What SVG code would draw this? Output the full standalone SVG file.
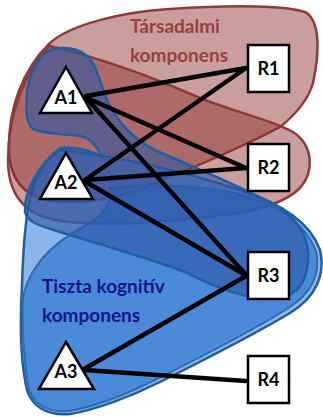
<svg xmlns="http://www.w3.org/2000/svg" width="323" height="417" viewBox="0 0 323 417">
<style>
.red{fill:rgb(140,40,40);fill-opacity:0.45;stroke:#8e3b3b;stroke-width:2.5;stroke-linejoin:round}
.blueD{fill:rgb(50,120,215);fill-opacity:0.55;stroke:#1f5f9f;stroke-width:2.5}
.blueF{fill:rgb(30,110,205);fill-opacity:0.6;stroke:#2a6cb0;stroke-width:2}
.blueC{fill:rgb(45,85,165);fill-opacity:0.6;stroke:#1f5f9f;stroke-width:2.5}
.edge{stroke:#000;stroke-width:4.5;stroke-linecap:round;fill:none}
.box{fill:#fff;stroke:#000;stroke-width:2.5}
.tri{fill:#fff;stroke:#000;stroke-width:2.5;stroke-linejoin:miter}
.lbl{font-family:Lato,"Liberation Sans",sans-serif;font-weight:bold;font-size:18px;fill:#000;text-anchor:middle}
.grp{font-family:Lato,"Liberation Sans",sans-serif;font-weight:bold;font-size:19px}
</style>
<g id="regions">
<path id="social-a" class="red" d="M50,43 C70,25 120,12 170,9 C230,5 290,5 307,13 C322,25 318,60 313,83 C308,100 295,115 280,127 C250,143 200,165 150,185 C120,198 90,203 60,202 C30,200 10,185 9,150 C8,110 22,70 50,43 Z"/>
<path id="social-b" class="red" d="M50,46 C100,58 150,76 200,98 C240,114 272,120 293,132 C314,146 314,172 300,188 C285,203 260,210 230,214 C170,222 100,228 55,220 C25,214 8,195 8,160 C8,115 25,70 50,46 Z"/>
<path id="cog-d" class="blueD" d="M60,150 C110,155 180,170 240,190 C280,203 310,222 320,250 C326,275 315,298 290,313 C250,337 200,362 160,382 C130,397 95,410 70,414 C45,416 32,405 27,390 C20,360 20,320 22,285 C23,250 25,215 32,190 C38,172 48,158 60,150 Z"/>
<path id="cog-f" class="blueF" d="M110,188 C160,182 220,188 245,196 C282,207 306,225 316,251 C321,274 311,294 287,309 C247,334 197,359 157,379 C127,394 93,407 69,411 C46,413 34,403 29,389 C23,360 22,320 23,297 C30,265 55,242 83,227 C100,218 112,205 110,188 Z"/>
<path id="cog-c" class="blueC" d="M53,49 C70,46 84,50 92,62 C100,75 102,92 110,106 C120,124 132,138 155,150 C190,166 240,185 280,208 C300,222 310,240 308,262 C306,282 298,294 280,298 C255,302 220,290 185,272 C140,255 95,243 60,232 C40,226 27,222 25,212 C24,192 38,165 60,148 C75,147 90,150 102,157 C96,145 90,138 80,136 C65,134 45,134 33,129 C25,122 26,105 27,95 C28,75 38,55 53,49 Z"/>
<text class="grp" fill="#9a4040" x="175" y="33" text-anchor="middle">Társadalmi</text>
<text class="grp" fill="#9a4040" x="179" y="62" text-anchor="middle">komponens</text>
<text class="grp" fill="#14148c" x="42" y="293">Tiszta kognitív</text>
<text class="grp" fill="#14148c" x="42" y="322">komponens</text>
</g>
<g id="connectors">
<line class="edge" x1="86" y1="96" x2="246" y2="68"/>
<line class="edge" x1="87" y1="98" x2="246" y2="168"/>
<line class="edge" x1="88" y1="100" x2="247" y2="276"/>
<line class="edge" x1="85" y1="180" x2="246" y2="68"/>
<line class="edge" x1="86" y1="180" x2="246" y2="168"/>
<line class="edge" x1="86" y1="182" x2="247" y2="276"/>
<line class="edge" x1="84" y1="369" x2="246" y2="276"/>
<line class="edge" x1="84" y1="370" x2="246" y2="381"/>
</g>
<g id="A1"><polygon class="tri" points="66,67 92,113 40,113"/><text class="lbl" x="66" y="104">A1</text></g>
<g id="A2"><polygon class="tri" points="66,153 93,199 40,199"/><text class="lbl" x="66" y="189">A2</text></g>
<g id="A3"><polygon class="tri" points="66,342 94,389 39,389"/><text class="lbl" x="66" y="378">A3</text></g>
<g id="R1"><rect class="box" x="248" y="45" width="41" height="47"/><text class="lbl" x="268.5" y="75">R1</text></g>
<g id="R2"><rect class="box" x="248" y="144" width="41" height="47"/><text class="lbl" x="268.5" y="174">R2</text></g>
<g id="R3"><rect class="box" x="248" y="252" width="41" height="47"/><text class="lbl" x="268.5" y="282">R3</text></g>
<g id="R4"><rect class="box" x="248" y="356" width="41" height="47"/><text class="lbl" x="268.5" y="386">R4</text></g>
</svg>
